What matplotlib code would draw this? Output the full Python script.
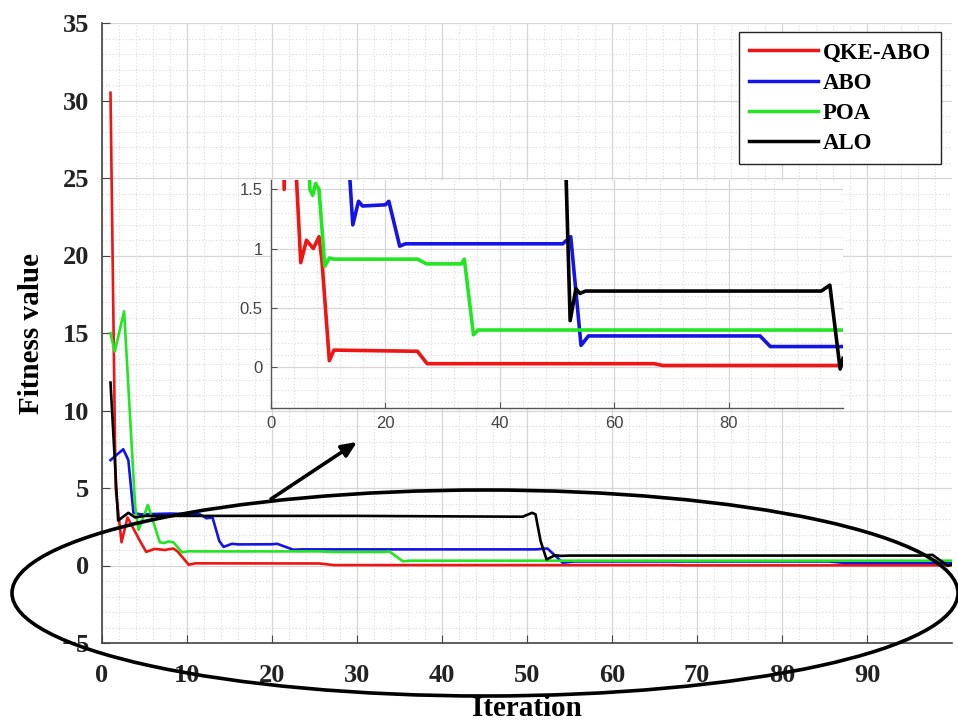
import matplotlib
matplotlib.use("Agg")
import matplotlib.pyplot as plt
from matplotlib.patches import Ellipse
from matplotlib.ticker import MultipleLocator

# ---------------- data (breakpoints of each convergence curve) ----------------
qke_x = [1, 1.6, 2.3, 3.0, 4.5, 5.2, 6.2, 7.4, 8.4, 8.9, 10.2, 11.0, 25.6, 27.3, 67.0, 68.5, 100]
qke_y = [30.5, 5.0, 1.5, 3.1, 1.55, 0.88, 1.07, 1.0, 1.1, 0.9, 0.05, 0.14, 0.13, 0.025, 0.025, 0.01, 0.01]

abo_x = [1, 2.5, 3.1, 3.7, 4.5, 8, 11.5, 12.3, 13.0, 13.8, 14.3, 15.3, 16.0, 20.0, 20.6, 22.5, 23.5, 51.0, 52.4, 54.2, 55.5, 85.5, 87.3, 100]
abo_y = [6.8, 7.5, 6.8, 3.4, 3.3, 3.35, 3.3, 3.05, 3.1, 1.58, 1.2, 1.4, 1.36, 1.37, 1.4, 1.02, 1.04, 1.04, 1.1, 0.18, 0.26, 0.26, 0.17, 0.17]

poa_x = [1, 1.5, 2.6, 3.9, 4.3, 5.4, 6.8, 7.3, 7.8, 8.4, 9.4, 10.2, 11.0, 25.6, 27.2, 33.3, 33.8, 35.4, 36.2, 100]
poa_y = [15.0, 13.8, 16.4, 3.8, 2.3, 3.9, 1.5, 1.45, 1.55, 1.5, 0.85, 0.92, 0.91, 0.91, 0.87, 0.87, 0.91, 0.27, 0.31, 0.31]

alo_x = [1, 1.9, 3.1, 3.9, 5, 30, 48.5, 49.5, 50.6, 51.0, 51.6, 52.3, 53.3, 54.0, 55.0, 96.2, 97.7, 99.5, 100]
alo_y = [11.8, 2.9, 3.4, 3.1, 3.2, 3.2, 3.15, 3.15, 3.4, 3.3, 1.58, 0.39, 0.66, 0.62, 0.64, 0.64, 0.69, -0.02, 0.07]

labels = ["QKE-ABO", "ABO", "POA", "ALO"]
colors = ["#f01414", "#1414e6", "#22e622", "#000000"]

main_xticks = [0, 10, 20, 30, 40, 50, 60, 70, 80, 90]
main_yticks = [-5, 0, 5, 10, 15, 20, 25, 30, 35]
inset_xticks = [0, 20, 40, 60, 80]
inset_yticks = [0, 0.5, 1, 1.5]
inset_yticklabels = ["0", "0.5", "1", "1.5"]

series = [(qke_x, qke_y), (abo_x, abo_y), (poa_x, poa_y), (alo_x, alo_y)]

W, H = 958, 725
fig = plt.figure(figsize=(W / 100, H / 100), dpi=100)

serif = "Liberation Serif"

# ---------------- main axes ----------------
ax = fig.add_axes([102 / W, (H - 643) / H, 850 / W, 620 / H])
for (x, y), lab, c in zip(series, labels, colors):
    ax.plot(x, y, color=c, lw=1.9, label=lab, zorder=3)
ax.set_xlim(0, 100)
ax.set_ylim(-5, 35)
ax.set_xticks(main_xticks)
ax.set_yticks(main_yticks)
ax.xaxis.set_minor_locator(MultipleLocator(2))
ax.yaxis.set_minor_locator(MultipleLocator(1))
ax.grid(True, which="major", color="#d6d6d6", lw=0.9)
ax.grid(True, which="minor", color="#dcdcdc", lw=0.8, ls=(0, (1, 2)))
ax.set_axisbelow(True)
for s in ["top", "right"]:
    ax.spines[s].set_visible(False)
for s in ["left", "bottom"]:
    ax.spines[s].set_color("#444444")
    ax.spines[s].set_linewidth(1.2)
ax.tick_params(which="major", direction="in", length=6, color="#444444")
ax.tick_params(axis="y", which="major", pad=9)
ax.tick_params(axis="x", which="major", pad=15)
ax.tick_params(which="minor", length=0)
for t in ax.get_xticklabels() + ax.get_yticklabels():
    t.set_fontfamily(serif)
    t.set_fontweight("bold")
    t.set_fontsize(19)
    t.set_color("#222222")
ax.set_xlabel("Iteration", fontfamily=serif, fontweight="bold", fontsize=21, labelpad=6)
ax.set_ylabel("Fitness value", fontfamily=serif, fontweight="bold", fontsize=21, labelpad=12)

leg = ax.legend(loc="upper right", bbox_to_anchor=(941 / W, (H - 32) / H),
                bbox_transform=fig.transFigure, borderaxespad=0,
                prop={"family": serif, "weight": "bold", "size": 16.5},
                handlelength=3.0, handletextpad=0.2, labelspacing=0.4,
                borderpad=0.45, fancybox=False, framealpha=1, edgecolor="#222222")
leg.get_frame().set_linewidth(1.0)
for l in leg.get_lines():
    l.set_linewidth(2.5)

# ---------------- inset axes ----------------
ins = fig.add_axes([271 / W, (H - 408) / H, 572 / W, 228 / H])
ins.set_facecolor("white")
for (x, y), c in zip(series, colors):
    ins.plot(x, y, color=c, lw=2.6, zorder=3)
ins.set_xlim(0, 100)
ins.set_ylim(-0.35, 1.58)
ins.set_xticks(inset_xticks)
ins.set_yticks(inset_yticks)
ins.set_yticklabels(inset_yticklabels)
ins.xaxis.set_minor_locator(MultipleLocator(4))
ins.yaxis.set_minor_locator(MultipleLocator(0.1))
ins.grid(True, which="major", color="#d6d6d6", lw=0.9)
ins.grid(True, which="minor", color="#dcdcdc", lw=0.8, ls=(0, (1, 2)))
ins.set_axisbelow(True)
for s in ["top", "right"]:
    ins.spines[s].set_visible(False)
for s in ["left", "bottom"]:
    ins.spines[s].set_color("#555555")
    ins.spines[s].set_linewidth(1.0)
ins.tick_params(which="major", direction="in", length=4, color="#555555",
                labelsize=12, labelcolor="#444444", pad=6)
ins.tick_params(which="minor", length=0)
for t in ins.get_xticklabels() + ins.get_yticklabels():
    t.set_fontfamily("Liberation Sans")

# ---------------- ellipse and arrow annotations ----------------
ell = Ellipse((485 / W, (H - 593) / H), 946 / W, 206 / H, transform=fig.transFigure,
              fill=False, edgecolor="black", lw=2.6, zorder=10, clip_on=False)
fig.patches.append(ell)
ax.annotate("", xy=(357 / W, (H - 442) / H), xytext=(271 / W, (H - 499) / H),
            xycoords="figure fraction", textcoords="figure fraction",
            arrowprops=dict(arrowstyle="-|>,head_length=0.9,head_width=0.4",
                            color="black", lw=2.6, shrinkA=0, shrinkB=0),
            annotation_clip=False, zorder=10)

fig.savefig("out.png", dpi=100)
